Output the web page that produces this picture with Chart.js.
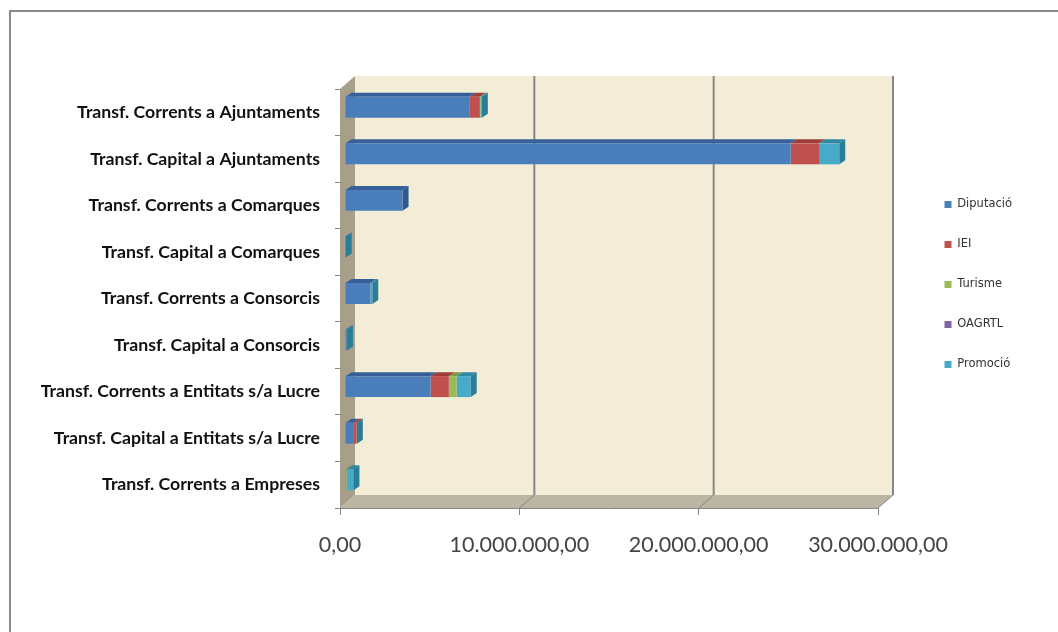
<!DOCTYPE html>
<html>
<head>
<meta charset="utf-8">
<title>Transferències</title>
<script src="https://cdn.jsdelivr.net/npm/chart.js@4/dist/chart.umd.min.js"></script>
<style>
    html, body { margin: 0; padding: 0; background: #fff; overflow: hidden; }
    #wrap { position: relative; width: 1058px; height: 632px; }
    #frame { position: absolute; left: 9px; top: 10px; width: 1058px; height: 632px; border: 2px solid #8a8a8a; border-width: 2px 0 0 2px; }
    #chart { position: absolute; left: 0; top: 0; }
</style>
</head>
<body>
<div id="wrap">
    <div id="frame"></div>
    <canvas id="chart" width="1058" height="632"></canvas>
</div>
<script>
const categories = [
    'Transf. Corrents a Ajuntaments',
    'Transf. Capital a Ajuntaments',
    'Transf. Corrents a Comarques',
    'Transf. Capital a Comarques',
    'Transf. Corrents a Consorcis',
    'Transf. Capital a Consorcis',
    'Transf. Corrents a Entitats s/a Lucre',
    'Transf. Capital a Entitats s/a Lucre',
    'Transf. Corrents a Empreses'
];
const diputacio = [6960000, 24850000, 3210000, 10000, 1420000, 90000, 4770000, 460000, 10000];
const iei = [560000, 1580000, 0, 0, 0, 0, 1020000, 190000, 0];
const turisme = [30000, 0, 0, 0, 0, 0, 440000, 0, 90000];
const oagrtl = [0, 0, 0, 0, 0, 0, 0, 0, 0];
const promocio = [80000, 1130000, 0, 30000, 100000, 20000, 780000, 10000, 370000];
const xTicks = [0, 10000000, 20000000, 30000000];

const seriesNames = ['Diputació', 'IEI', 'Turisme', 'OAGRTL', 'Promoció'];
const seriesValues = [diputacio, iei, turisme, oagrtl, promocio];
const faceColors = ['#4a7ebb', '#c0504d', '#9bbb59', '#8064a2', '#46aac8'];
const topColors = ['#37609a', '#9c3d3a', '#7c9745', '#634c80', '#2f87a0'];
const sideColors = ['#2f5a90', '#8f3836', '#6f8a3c', '#59457a', '#2a7d96'];

// fake 3D box: walls, floor and the depth faces of the bars
const BAR_DX = 5, BAR_DY = -5;     // bars sit inside the depth of the box
const DEPTH_X = 6, DEPTH_Y = -4;   // depth of a bar
const WALL_DX = 15, WALL_DY = -13; // depth of the box

function poly(ctx, pts, fill) {
    ctx.beginPath();
    pts.forEach((p, i) => i ? ctx.lineTo(p[0], p[1]) : ctx.moveTo(p[0], p[1]));
    ctx.closePath();
    ctx.fillStyle = fill;
    ctx.fill();
}

const box3d = {
    id: 'box3d',
    afterLayout(chart) {
        // legend stands apart from the plot, move it after the layout is done
        const lg = chart.legend;
        lg.left += 38; lg.right += 38;
        lg.top -= 76; lg.bottom -= 76;
    },
    beforeDatasetsDraw(chart) {
        const ctx = chart.ctx;
        const { left, right, top, bottom } = chart.chartArea;
        const x = chart.scales.x;

        ctx.save();
        // back wall
        poly(ctx, [[left + WALL_DX, top + WALL_DY], [right + WALL_DX, top + WALL_DY],
                   [right + WALL_DX, bottom + WALL_DY], [left + WALL_DX, bottom + WALL_DY]], '#f3ecd7');
        // side wall
        poly(ctx, [[left, top], [left + WALL_DX, top + WALL_DY],
                   [left + WALL_DX, bottom + WALL_DY], [left, bottom]], '#a89f8b');
        // floor
        poly(ctx, [[left, bottom], [left + WALL_DX, bottom + WALL_DY],
                   [right + WALL_DX, bottom + WALL_DY], [right, bottom]], '#bbb5a3');

        // gridlines on back wall and floor
        ctx.strokeStyle = '#868686';
        xTicks.slice(1).forEach(v => {
            const px = x.getPixelForValue(v);
            ctx.lineWidth = 2;
            ctx.beginPath();
            ctx.moveTo(px + WALL_DX, top + WALL_DY);
            ctx.lineTo(px + WALL_DX, bottom + WALL_DY);
            ctx.stroke();
            ctx.lineWidth = 1;
            ctx.beginPath();
            ctx.moveTo(px + WALL_DX, bottom + WALL_DY);
            ctx.lineTo(px, bottom);
            ctx.stroke();
        });

        // bar depth faces, same origin as the fronts
        ctx.translate(BAR_DX, BAR_DY);
        categories.forEach((c, j) => {
            let last = -1;
            seriesValues.forEach((vals, i) => {
                if (!vals[j]) return;
                const el = chart.getDatasetMeta(i).data[j];
                const x0 = el.base, x1 = el.x, yTop = el.y - el.height / 2;
                poly(ctx, [[x0, yTop], [x0 + DEPTH_X, yTop + DEPTH_Y],
                           [x1 + DEPTH_X, yTop + DEPTH_Y], [x1, yTop]], topColors[i]);
                last = i;
            });
            if (last >= 0) {
                const el = chart.getDatasetMeta(last).data[j];
                const yTop = el.y - el.height / 2, yBot = el.y + el.height / 2;
                poly(ctx, [[el.x, yTop], [el.x + DEPTH_X, yTop + DEPTH_Y],
                           [el.x + DEPTH_X, yBot + DEPTH_Y], [el.x, yBot]], sideColors[last]);
            }
        });
        ctx.restore();

        // the fronts are drawn by the library inside this translate
        ctx.save();
        ctx.translate(BAR_DX, BAR_DY);
    },
    afterDatasetsDraw(chart) {
        chart.ctx.restore();
    }
};

new Chart(document.getElementById('chart'), {
    type: 'bar',
    data: {
        labels: categories,
        datasets: seriesNames.map((name, i) => ({
            label: name,
            data: seriesValues[i],
            backgroundColor: faceColors[i],
            borderWidth: 0,
            clip: false
        }))
    },
    options: {
        indexAxis: 'y',
        responsive: false,
        animation: false,
        categoryPercentage: 1,
        barPercentage: 0.45,
        layout: { padding: { top: 89, right: 74, bottom: 0, left: 0 } },
        scales: {
            x: {
                stacked: true,
                min: 0,
                max: 30000000,
                afterFit(s) { s.height = 124; s.paddingLeft = 0; s.paddingRight = 0; },
                afterBuildTicks(s) { s.ticks = xTicks.map(v => ({ value: v })); },
                border: { color: '#868686', width: 1 },
                grid: { drawOnChartArea: false, drawTicks: true, tickLength: 7, color: '#868686' },
                ticks: {
                    maxRotation: 0,
                    autoSkip: false,
                    padding: 17,
                    color: '#444',
                    font: { family: 'Lato', size: 21.5 },
                    callback: v => v === 0 ? '0,00' : v.toLocaleString('de-DE') + ',00'
                }
            },
            y: {
                stacked: true,
                afterFit(s) { s.width = 340; },
                border: { color: '#868686', width: 1 },
                grid: { drawOnChartArea: false, drawTicks: true, tickLength: 5, color: '#868686' },
                ticks: {
                    padding: 15,
                    autoSkip: false,
                    color: '#111',
                    font: { family: 'Lato', size: 17.7, weight: 'bold' }
                }
            }
        },
        plugins: {
            title: { display: false },
            tooltip: { enabled: false },
            legend: {
                position: 'right',
                align: 'center',
                labels: {
                    boxWidth: 7,
                    boxHeight: 7,
                    padding: 28.5,
                    color: '#333',
                    font: { family: 'DejaVu Sans', size: 11.5 }
                }
            }
        }
    },
    plugins: [box3d]
});
</script>
</body>
</html>
